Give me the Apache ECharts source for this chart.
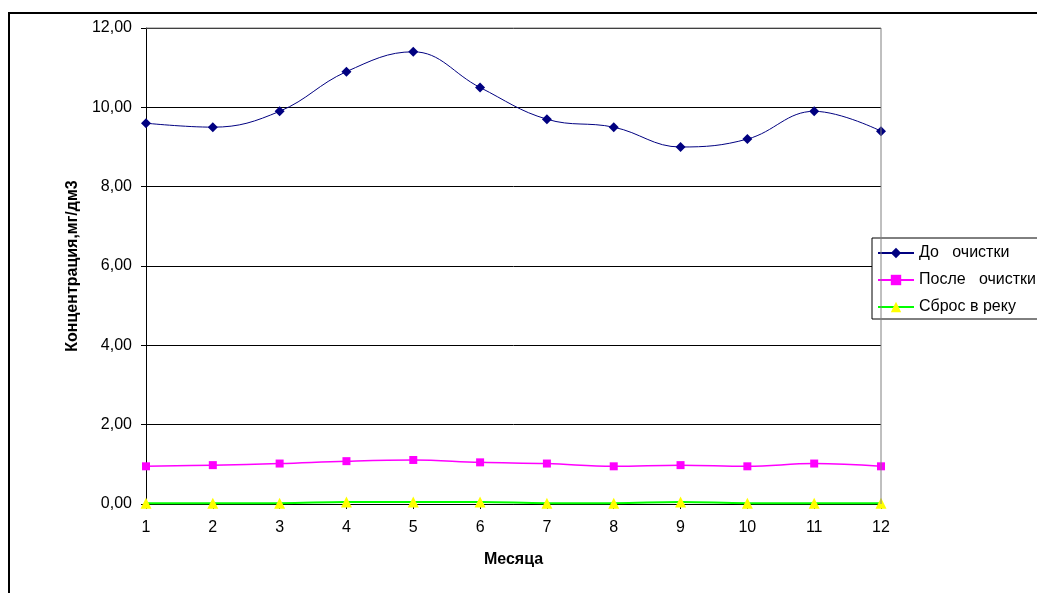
<!DOCTYPE html>
<html><head><meta charset="utf-8">
<script src="https://cdn.jsdelivr.net/npm/echarts@6/dist/echarts.min.js"></script>
<style>html,body{margin:0;padding:0;background:#fff}#c{width:1037px;height:593px}</style>
</head><body><div id="c"></div>
<script>
const months = ['1','2','3','4','5','6','7','8','9','10','11','12'];
const beforeCleaning = [9.6, 9.5, 9.9, 10.9, 11.4, 10.5, 9.7, 9.5, 9.0, 9.2, 9.9, 9.4];
const afterCleaning = [0.95, 0.98, 1.02, 1.08, 1.11, 1.05, 1.02, 0.95, 0.98, 0.95, 1.02, 0.95];
const dischargeRiver = [0.02, 0.02, 0.02, 0.05, 0.05, 0.05, 0.02, 0.02, 0.05, 0.02, 0.02, 0.02];
const seriesNames = ['До   очистки', 'После   очистки', 'Сброс в реку'];

const chart = echarts.init(document.getElementById('c'));
const font = 'Liberation Sans, Arial, sans-serif';
chart.setOption({
  animation: false,
  textStyle: {fontFamily: font},
  graphic: [{
    type: 'rect', shape: {x: 9, y: 13, width: 1100, height: 700},
    style: {fill: null, stroke: '#000', lineWidth: 2}, z: -10
  }, {
    type: 'line', shape: {x1: 146, y1: 28, x2: 881, y2: 28},
    style: {stroke: '#808080', lineWidth: 1}, z: 5
  }, {
    type: 'line', shape: {x1: 881, y1: 28, x2: 881, y2: 504},
    style: {stroke: '#808080', lineWidth: 1}, z: 5
  }],
  grid: {left: 146, right: 156, top: 28, bottom: 89},
  legend: {
    orient: 'vertical', left: 872, top: 238,
    backgroundColor: '#fff', borderColor: '#000', borderWidth: 1,
    padding: [6, 20, 3, 5], itemGap: 9, itemWidth: 36, itemHeight: 13,
    textStyle: {fontFamily: font, fontSize: 16, lineHeight: 18, color: '#000'},
    data: seriesNames
  },
  xAxis: {
    type: 'category', data: months, boundaryGap: false,
    name: 'Месяца', nameLocation: 'middle', nameGap: 48,
    nameTextStyle: {fontFamily: font, fontSize: 16, fontWeight: 'bold', color: '#000'},
    axisLine: {lineStyle: {color: '#000', width: 1}},
    axisTick: {show: true, length: 5, lineStyle: {color: '#000'}},
    axisLabel: {fontFamily: font, fontSize: 16, color: '#000', margin: 16},
    splitLine: {show: false}
  },
  yAxis: {
    type: 'value', min: 0, max: 12, interval: 2,
    name: 'Концентрация,мг/дм3', nameLocation: 'middle', nameGap: 58,
    nameTextStyle: {fontFamily: font, fontSize: 16, fontWeight: 'bold', color: '#000'},
    axisLine: {show: true, lineStyle: {color: '#000', width: 1}},
    axisTick: {show: true, length: 5, lineStyle: {color: '#000'}},
    axisLabel: {fontFamily: font, fontSize: 16, color: '#000', margin: 14,
      formatter: v => v.toFixed(2).replace('.', ',')},
    splitLine: {show: true, lineStyle: {color: '#000', width: 1}}
  },
  series: [{
    name: seriesNames[0], type: 'line', data: beforeCleaning, smooth: 0.4,
    symbol: 'diamond', symbolSize: 10,
    lineStyle: {color: '#000080', width: 1},
    itemStyle: {color: '#000080'}, z: 4
  }, {
    name: seriesNames[1], type: 'line', data: afterCleaning, smooth: 0.4,
    symbol: 'rect', symbolSize: 8,
    lineStyle: {color: '#FF00FF', width: 1.5},
    itemStyle: {color: '#FF00FF'}, z: 3
  }, {
    name: seriesNames[2], type: 'line', data: dischargeRiver, smooth: 0.4,
    symbol: 'triangle', symbolSize: 11,
    lineStyle: {color: '#00FF00', width: 2},
    itemStyle: {color: '#FFFF00'}, z: 2
  }]
});
</script></body></html>
